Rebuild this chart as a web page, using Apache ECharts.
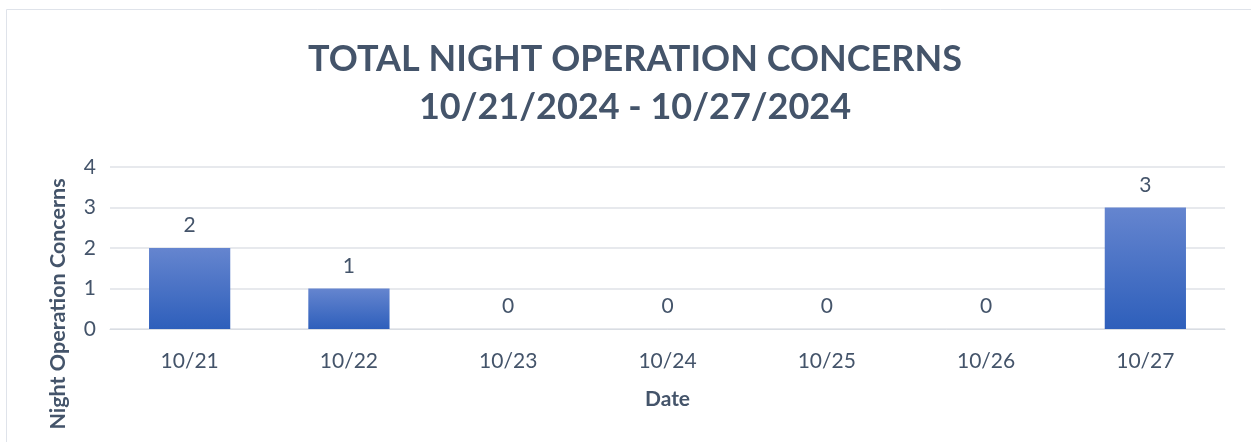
<!DOCTYPE html>
<html>
<head>
<meta charset="utf-8">
<script src="https://cdn.jsdelivr.net/npm/echarts@6/dist/echarts.min.js"></script>
<style>
  html, body { margin: 0; padding: 0; background: #fff; }
  #chart { width: 1251px; height: 442px; }
</style>
</head>
<body>
<div id="chart"></div>
<script>
// 数据
var dates = ['10/21', '10/22', '10/23', '10/24', '10/25', '10/26', '10/27'];
var concerns = [2, 1, 0, 0, 0, 0, 3];
var yTicks = [0, 1, 2, 3, 4];

var textColor = '#44546a';
var font = 'Lato, "Open Sans", sans-serif';

var mychart = echarts.init(document.getElementById('chart'));

var option = {
    animation: false,
    title: {
        text: 'TOTAL NIGHT OPERATION CONCERNS\n10/21/2024 - 10/27/2024',
        left: 630,
        textAlign: 'center',
        top: 30,
        textStyle: {
            fontFamily: font,
            fontSize: 36,
            fontWeight: 'bold',
            color: textColor,
            lineHeight: 48
        }
    },
    graphic: [
        {
            type: 'rect',
            shape: { x: 6.5, y: 9.5, width: 1400, height: 600 },
            style: { fill: 'none', stroke: '#dfe3ea', lineWidth: 1 },
            silent: true
        },
        {
            type: 'text',
            x: 58,
            y: 304,
            rotation: Math.PI / 2,
            style: {
                text: 'Night Operation Concerns',
                fontFamily: font,
                fontSize: 21.5,
                fontWeight: 'bold',
                fill: textColor,
                align: 'center',
                verticalAlign: 'middle'
            }
        }
    ],
    grid: {
        left: 110,
        right: 26,
        top: 167,
        bottom: 113
    },
    xAxis: {
        type: 'category',
        data: dates,
        name: 'Date',
        nameLocation: 'middle',
        nameGap: 60,
        nameTextStyle: {
            fontFamily: font,
            fontSize: 21,
            fontWeight: 'bold',
            color: textColor
        },
        axisLine: { lineStyle: { color: '#d9dde3', width: 1 } },
        axisTick: { show: false },
        axisLabel: {
            margin: 22,
            fontFamily: font,
            fontSize: 21,
            color: textColor
        }
    },
    yAxis: {
        type: 'value',
        min: yTicks[0],
        max: yTicks[yTicks.length - 1],
        interval: 1,
        axisLine: { show: false },
        axisTick: { show: false },
        splitLine: { lineStyle: { color: '#dfe2e7', width: 1.5 } },
        axisLabel: {
            margin: 14,
            fontFamily: font,
            fontSize: 21,
            color: textColor
        }
    },
    series: [{
        name: 'Night Operation Concerns',
        type: 'bar',
        data: concerns,
        barWidth: '51%',
        itemStyle: {
            color: new echarts.graphic.LinearGradient(0, 0, 0, 1, [
                { offset: 0, color: '#6585cf' },
                { offset: 1, color: '#2e5fbb' }
            ])
        },
        label: {
            show: true,
            position: 'top',
            distance: 12,
            fontFamily: font,
            fontSize: 21,
            color: textColor
        }
    }]
};

mychart.setOption(option);
</script>
</body>
</html>
